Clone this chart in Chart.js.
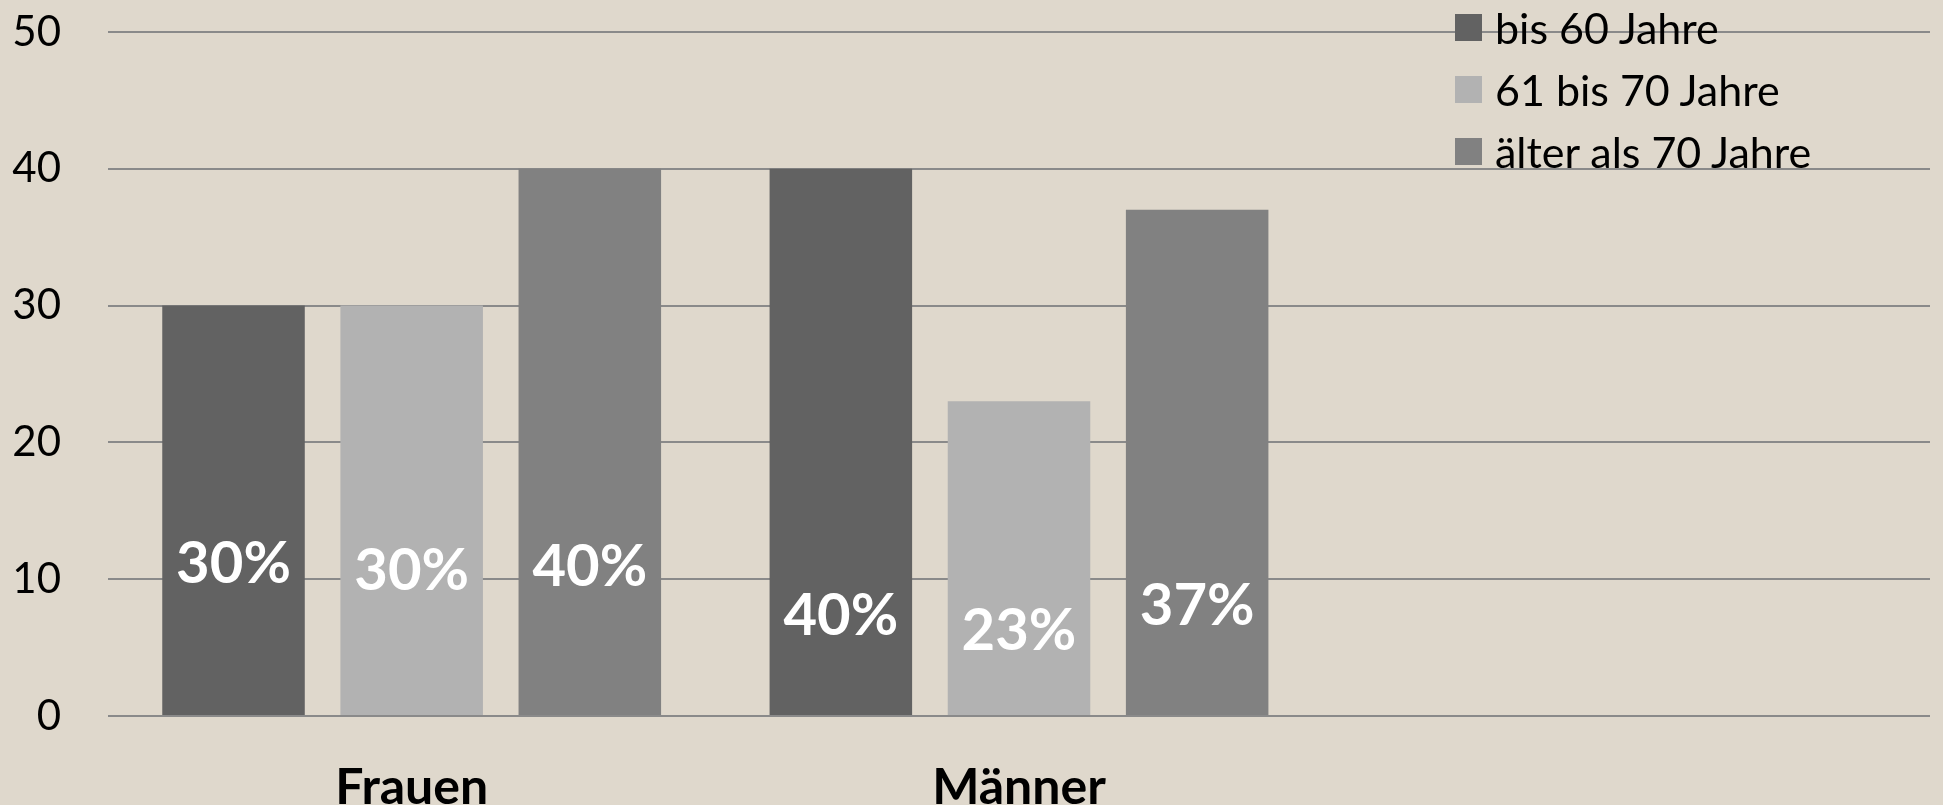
<!DOCTYPE html>
<html>
<head>
<meta charset="utf-8">
<script src="https://cdn.jsdelivr.net/npm/chart.js"></script>
<style>
  body { margin: 0; background: #dfd8cc; }
  #wrap { position: relative; width: 1943px; height: 805px; }
  #legend { position: absolute; left: 1455px; top: -4px; font-family: Lato, sans-serif; font-size: 43px; color: #000; }
  .item { display: flex; align-items: center; height: 62px; }
  .box { width: 27px; height: 27px; margin-right: 13px; }
</style>
</head>
<body>
<div id="wrap">
  <canvas id="chart" width="1943" height="805"></canvas>
  <div id="legend"></div>
</div>
<script>
const categories = ['Frauen', 'Männer', ''];
const seriesNames = ['bis 60 Jahre', '61 bis 70 Jahre', 'älter als 70 Jahre'];
const bis60 = [30, 40];
const von61bis70 = [30, 23];
const ueber70 = [40, 37];
const colors = ['#626262', '#b2b2b2', '#818181'];

// where the white % labels sit inside the bars (in axis units)
const labelLevels = [[11.1, 7.3], [10.6, 6.2], [10.9, 8.0]];

const barLabels = {
    id: 'barLabels',
    afterDatasetsDraw(chart) {
        const ctx = chart.ctx;
        const y = chart.scales.y;
        ctx.save();
        ctx.fillStyle = '#fff';
        ctx.font = 'bold 58px Lato';
        ctx.textAlign = 'center';
        ctx.textBaseline = 'middle';
        chart.data.datasets.forEach((ds, i) => {
            chart.getDatasetMeta(i).data.forEach((bar, j) => {
                if (ds.data[j] == null) return;
                ctx.fillText(ds.data[j] + '%', bar.x, y.getPixelForValue(labelLevels[i][j]));
            });
        });
        ctx.restore();
    }
};

const values = [bis60, von61bis70, ueber70];

const ctx = document.getElementById('chart');
const chart = new Chart(ctx, {
    type: 'bar',
    data: {
        labels: categories,
        datasets: values.map((v, i) => ({
            label: seriesNames[i],
            data: v,
            backgroundColor: colors[i],
            borderWidth: 0,
            categoryPercentage: 0.88,
            barPercentage: 0.8
        }))
    },
    options: {
        responsive: false,
        animation: false,
        layout: { padding: { top: 32, right: 13, left: 0, bottom: 0 } },
        plugins: {
            legend: { display: false },
            tooltip: { enabled: false }
        },
        scales: {
            x: {
                grid: { display: false },
                border: { display: false },
                ticks: {
                    color: '#000',
                    font: { family: 'Lato', size: 50, weight: 'bold' },
                    padding: 34
                },
                afterFit: (scale) => { scale.height = 89; scale.paddingLeft = 0; scale.paddingRight = 0; }
            },
            y: {
                min: 0,
                max: 50,
                border: { display: false },
                grid: { color: '#8a8a8a', lineWidth: 2, drawTicks: false },
                ticks: {
                    stepSize: 10,
                    color: '#000',
                    font: { family: 'Lato', size: 42 },
                    padding: 47
                },
                afterFit: (scale) => { scale.width = 108; scale.paddingTop = 0; scale.paddingBottom = 0; }
            }
        }
    },
    plugins: [barLabels]
});

const legend = document.getElementById('legend');
seriesNames.forEach((name, i) => {
    const item = document.createElement('div');
    item.className = 'item';
    item.innerHTML = '<span class="box" style="background:' + colors[i] + '"></span><span>' + name + '</span>';
    legend.appendChild(item);
});
</script>
</body>
</html>
